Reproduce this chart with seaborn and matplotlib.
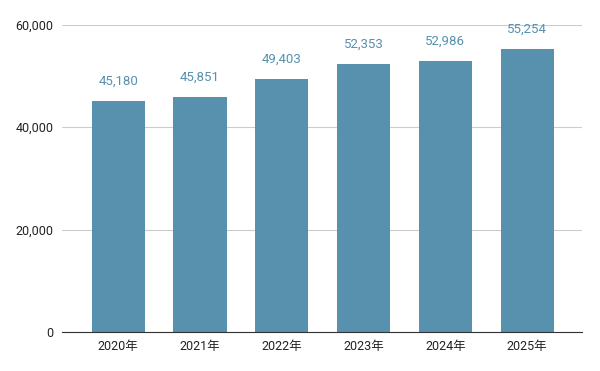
import matplotlib
matplotlib.use('Agg')
import matplotlib.pyplot as plt
import seaborn as sns
import pandas as pd

# Data
years = ['2020年', '2021年', '2022年', '2023年', '2024年', '2025年']
values = [45180, 45851, 49403, 52353, 52986, 55254]

df = pd.DataFrame({'year': years, 'value': values})

sns.set_style('white')
plt.rcParams['font.family'] = ['Roboto', 'Noto Sans CJK JP', 'DejaVu Sans']

bar_color = '#5791ae'

fig = plt.figure(figsize=(6, 3.71), dpi=100)
ax = fig.add_axes([0.103, 0.105, 0.867, 0.828])

sns.barplot(data=df, x='year', y='value', color=bar_color, saturation=1,
            width=0.65, ax=ax, zorder=3, edgecolor='none')

# value labels above bars
for i, v in enumerate(values):
    ax.text(i, v + 2600, f'{v:,}', ha='center', va='bottom',
            fontsize=9.5, color=bar_color)

ax.set_ylim(0, 60000)
ax.set_xlim(-0.69, 5.67)
ax.set_yticks([0, 20000, 40000, 60000])
ax.set_yticklabels([f'{t:,}' for t in [0, 20000, 40000, 60000]])
ax.yaxis.grid(True, color='#cccccc', linewidth=0.8, zorder=0)
ax.set_xlabel('')
ax.set_ylabel('')
ax.tick_params(axis='both', length=0, labelsize=9, colors='#222222', pad=6)

for s in ['top', 'right', 'left']:
    ax.spines[s].set_visible(False)
ax.spines['bottom'].set_color('#333333')
ax.spines['bottom'].set_linewidth(0.8)
ax.spines['bottom'].set_zorder(4)

fig.savefig('out.png', dpi=100)
